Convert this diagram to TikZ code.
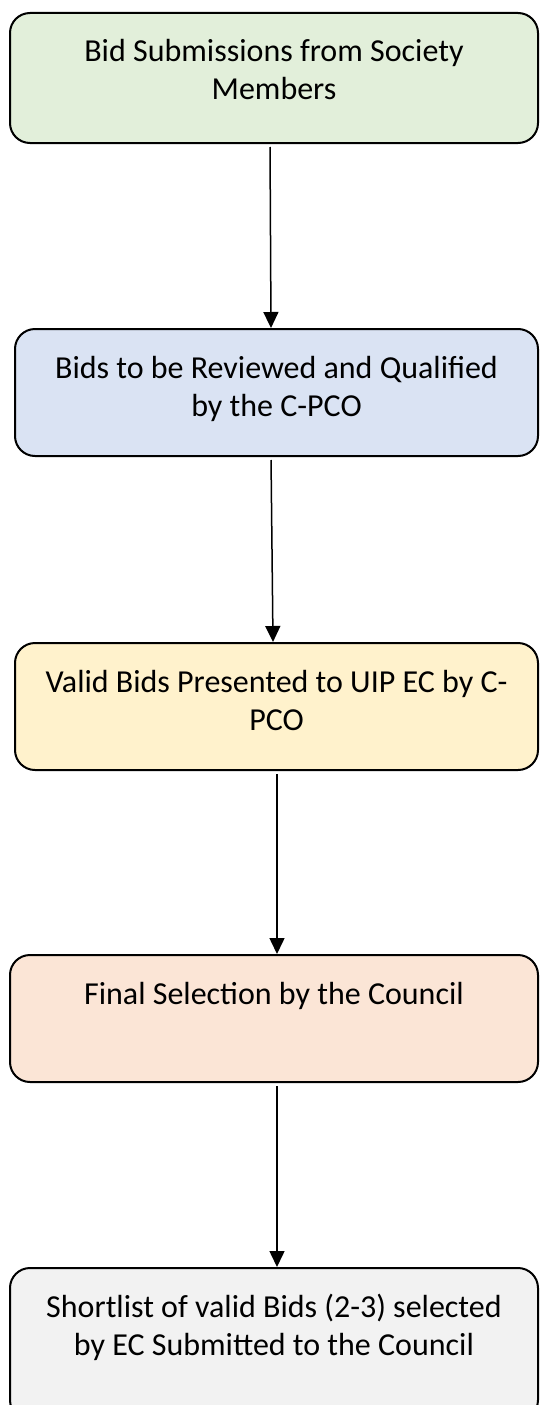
\documentclass[tikz,border=0pt]{standalone}
\usepackage{fontspec}
\setmainfont{Carlito}
\usetikzlibrary{arrows.meta}

\definecolor{submitgreen}{HTML}{E2EFDA}
\definecolor{reviewblue}{HTML}{DAE3F3}
\definecolor{validyellow}{HTML}{FFF2CC}
\definecolor{finalpink}{HTML}{FBE5D6}
\definecolor{shortgray}{HTML}{F2F2F2}

% text of a box, set from its top edge
\newcommand{\boxlines}[2][127pt]{\parbox[c][#1][t]{510pt}{\centering\rule{0pt}{49pt}#2}}

\tikzset{
  stepbox/.style={draw=black, line width=2pt, rounded corners=20pt, inner sep=0pt,
    minimum width=#1, font=\fontsize{32}{38}\selectfont},
  stepbox/.default=528pt,
  flowarrow/.style={-{Triangle[width=15pt,length=16pt]}, line width=1.5pt, shorten <=3pt}
}

\begin{document}
\begin{tikzpicture}[x=1pt, y=1pt]
\useasboundingbox (0,0) rectangle (540,-1405);

\node[stepbox, fill=submitgreen] (submit) at (274,-78) {\boxlines[130pt]{Bid Submissions from Society\\Members}};
\node[stepbox=523pt, fill=reviewblue] (review) at (276.5,-392.5) {\boxlines{Bids to be Reviewed and Qualified\\by the C-PCO}};
\node[stepbox=523pt, fill=validyellow] (valid) at (276.5,-706.5) {\boxlines{Valid Bids Presented to UIP EC by C-\\PCO}};
\node[stepbox, fill=finalpink] (final) at (274,-1018.5) {\boxlines{Final Selection by the Council}};
\node[stepbox, fill=shortgray] (shortlist) at (274,-1344) {\boxlines[152pt]{Shortlist of valid Bids (2-3) selected\\by EC Submitted to the Council}};

\draw[flowarrow] ([xshift=-4pt]submit.south) -- ([xshift=-5.5pt]review.north);
\draw[flowarrow] ([xshift=-5.5pt]review.south) -- ([xshift=-3.5pt]valid.north);
\draw[flowarrow] ([xshift=0.5pt]valid.south) -- ([xshift=3pt]final.north);
\draw[flowarrow] ([xshift=3pt]final.south) -- ([xshift=3pt]shortlist.north);
\end{tikzpicture}
\end{document}
